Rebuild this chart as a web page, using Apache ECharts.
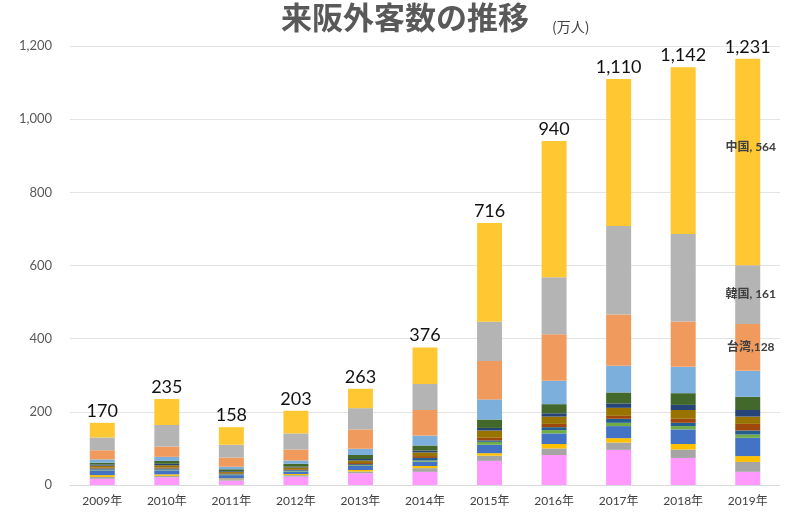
<!DOCTYPE html>
<html>
<head>
<meta charset="utf-8">
<script src="https://cdn.jsdelivr.net/npm/echarts@6/dist/echarts.min.js"></script>
<style>html,body{margin:0;padding:0;background:#fff;}#c{width:800px;height:524px;}</style>
</head>
<body>
<div id="c"></div>
<script>
const categories = ['2009年','2010年','2011年','2012年','2013年','2014年','2015年','2016年','2017年','2018年','2019年'];
const totals = [170, 235, 158, 203, 263, 376, 716, 940, 1110, 1142, 1231];

// series, bottom to top of the stack
const sonota     = [17, 21, 12, 23, 32, 36, 66, 82, 96, 74, 36];
const seriesB    = [5, 4, 4, 4, 5, 10, 14, 18, 20, 23, 27];
const seriesC    = [5, 4, 2, 3, 4, 6, 7, 12, 12, 15, 16];
const seriesD    = [13, 11, 9, 7, 11, 12, 23, 29, 33, 40, 50];
const seriesE    = [2, 2, 2, 2, 2, 3, 8, 9, 9, 9, 9];
const seriesF    = [3, 3, 2, 2, 3, 7, 4, 8, 11, 9, 11];
const seriesG    = [3, 3, 2, 2, 3, 5, 7, 9, 8, 11, 18];
const seriesH    = [5, 6, 3, 5, 7, 10, 20, 20, 22, 24, 20];
const seriesI    = [3, 4, 2, 2, 4, 5, 7, 9, 12, 14, 18];
const seriesJ    = [5, 8, 5, 8, 11, 14, 23, 25, 30, 32, 36];
const hongkong   = [9, 11, 7, 9, 17, 27, 55, 64, 73, 72, 71];
const taiwan     = [25, 28, 25, 30, 53, 70, 105, 127, 140, 124, 128];
const korea      = [35, 59, 35, 44, 58, 71, 107, 156, 242, 239, 161];
const china      = [40, 71, 48, 62, 53, 100, 270, 372, 402, 456, 564];

const seriesNames = ['その他','米国','欧州','タイ','マレーシア','シンガポール','ベトナム','フィリピン','インドネシア','豪州','香港','台湾','韓国','中国'];
const seriesData = [sonota, seriesB, seriesC, seriesD, seriesE, seriesF, seriesG, seriesH, seriesI, seriesJ, hongkong, taiwan, korea, china];
const colors = ['#FF99FF','#A5A5A5','#FFC000','#4472C4','#70AD47','#255E91','#9E480E','#997300','#264478','#43682B','#7DAFDD','#F19A5E','#B4B4B4','#FFC833'];
const lastLabels = {'台湾':'台湾,128', '韓国':'韓国, 161', '中国':'中国, 564'};

const FONT = "Lato, 'Noto Sans CJK JP', sans-serif";
const last = categories.length - 1;

const series = seriesData.map((d, si) => {
  const name = seriesNames[si];
  return {
    name: name,
    type: 'bar',
    stack: 'total',
    barWidth: 25,
    itemStyle: {color: colors[si]},
    data: d.map((v, i) => {
      if (i === last && lastLabels[name]) {
        return {
          value: v,
          label: {
            show: true,
            position: 'inside',
            offset: name === '中国' ? [3, -15] : [3, 0],
            formatter: lastLabels[name],
            color: '#404040',
            fontSize: 12,
            fontWeight: 'bold',
            fontFamily: FONT
          }
        };
      }
      return v;
    })
  };
});

series.push({
  name: '合計',
  type: 'bar',
  stack: 'total',
  barWidth: 25,
  itemStyle: {color: 'rgba(0,0,0,0)'},
  data: totals.map(() => 0),
  label: {
    show: true,
    position: 'top',
    distance: 3,
    color: '#111',
    fontSize: 18,
    fontFamily: FONT,
    formatter: p => totals[p.dataIndex].toLocaleString('en-US')
  }
});

const chart = echarts.init(document.getElementById('c'), null, {renderer: 'canvas'});
chart.setOption({
  animation: false,
  backgroundColor: '#fff',
  title: [
    {text: '来阪外客数の推移', left: 281, top: 0, padding: [2,0,0,0],
     textStyle: {fontSize: 31, fontWeight: 'bold', color: '#595959', fontFamily: "'Noto Sans CJK JP', sans-serif"}},
    {text: '(万人)', left: 552, top: 20, padding: 0,
     textStyle: {fontSize: 14, fontWeight: 'normal', color: '#404040', fontFamily: "'Noto Sans CJK JP', sans-serif"}}
  ],
  grid: {left: 70, right: 20, top: 46, bottom: 39, containLabel: false},
  xAxis: {
    type: 'category',
    data: categories,
    axisTick: {show: false},
    axisLine: {lineStyle: {color: '#D9D9D9'}},
    axisLabel: {color: '#404040', fontSize: 12, margin: 10, fontFamily: FONT}
  },
  yAxis: {
    type: 'value',
    min: 0, max: 1200, interval: 200,
    axisLine: {show: false},
    axisTick: {show: false},
    splitLine: {lineStyle: {color: '#E3E3E3'}},
    axisLabel: {color: '#595959', fontSize: 13, margin: 18, fontFamily: FONT,
      formatter: v => v.toLocaleString('en-US')}
  },
  series: series
});
</script>
</body>
</html>
